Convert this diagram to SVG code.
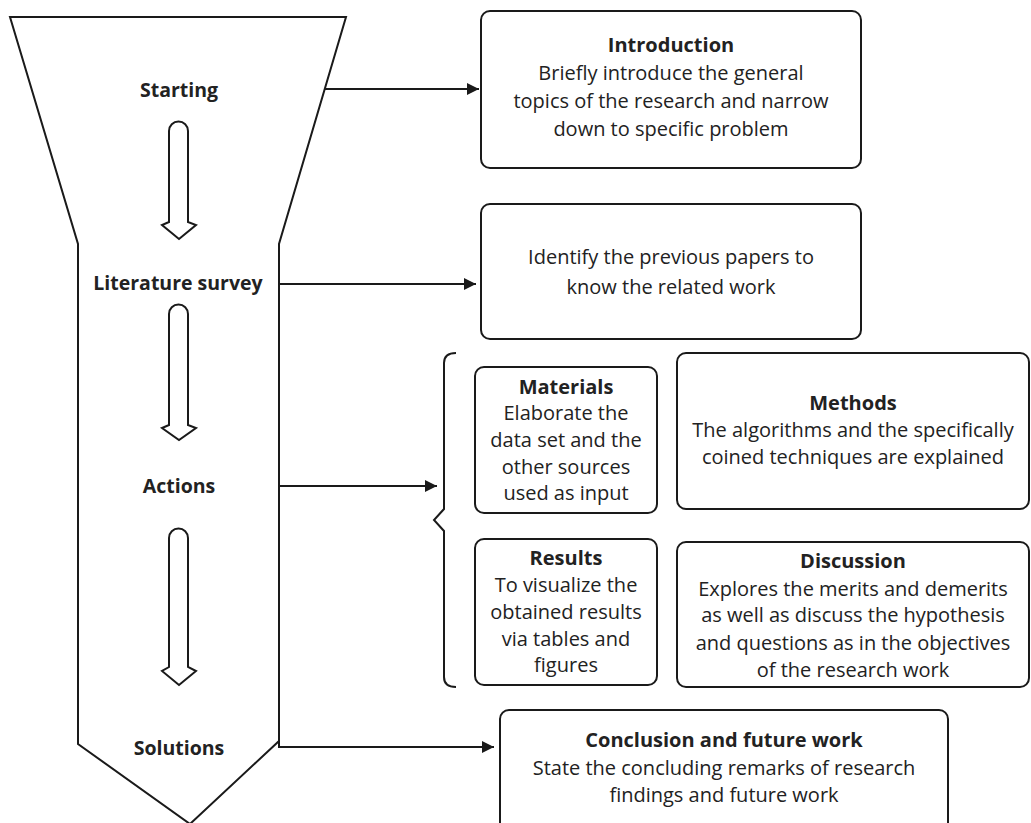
<svg xmlns="http://www.w3.org/2000/svg" width="1031" height="823" viewBox="0 0 1031 823">
<style>
.box{fill:#fff;stroke:#1a1a1a;stroke-width:2}
.line{fill:none;stroke:#1a1a1a;stroke-width:2}
.hollow{fill:#fff;stroke:#1a1a1a;stroke-width:2;stroke-linejoin:miter}
text{font-family:"Open Sans","Noto Sans","DejaVu Sans",sans-serif;fill:#222;text-anchor:middle}
.lbl{font-size:19.5px;font-weight:bold}
.t{font-size:20px;font-weight:bold}
.b{font-size:20px}
</style>
<defs>
<marker id="ah" markerWidth="12" markerHeight="12" refX="12" refY="6" orient="auto" markerUnits="userSpaceOnUse">
<path d="M0,0 L12,6 L0,12 Z" fill="#1a1a1a"/>
</marker>
</defs>
<rect width="1031" height="823" fill="#fff"/>
<g id="funnel">
<polygon class="hollow" points="10,17 346,17 279,244 279,741 190,824 78,744 78,244"/>
<path class="hollow" d="M169,222 V131 A9.5,9.5 0 0 1 188,131 V222 L196,225 L179,239 L162,225 Z"/>
<path class="hollow" d="M169,425 V314 A9.5,9.5 0 0 1 188,314 V425 L196,428 L179,440 L162,428 Z"/>
<path class="hollow" d="M169,667 V538 A9.5,9.5 0 0 1 188,538 V667 L196,671 L179,685 L162,671 Z"/>
<text class="lbl" x="179" y="97">Starting</text>
<text class="lbl" x="178" y="290">Literature survey</text>
<text class="lbl" x="179" y="493">Actions</text>
<text class="lbl" x="179" y="755">Solutions</text>
</g>
<g id="connectors">
<line class="line" x1="324" y1="89" x2="479" y2="89" marker-end="url(#ah)"/>
<line class="line" x1="279" y1="284" x2="476" y2="284" marker-end="url(#ah)"/>
<line class="line" x1="279" y1="486" x2="437" y2="486" marker-end="url(#ah)"/>
<path class="line" d="M279,741 V747 H494" marker-end="url(#ah)"/>
</g>
<g id="brace">
<path class="line" d="M456,353 Q444,353 444,363 V509 L434,520 L444,531 V677 Q444,687 456,687"/>
</g>
<g id="introduction">
<rect class="box" x="481" y="11" width="380" height="157" rx="9"/>
<text class="t" x="671" y="52">Introduction</text>
<text class="b" x="671" y="80">Briefly introduce the general</text>
<text class="b" x="671" y="108">topics of the research and narrow</text>
<text class="b" x="671" y="136">down to specific problem</text>
</g>
<g id="literature">
<rect class="box" x="481" y="204" width="380" height="135" rx="9"/>
<text class="b" x="671" y="264">Identify the previous papers to</text>
<text class="b" x="671" y="294">know the related work</text>
</g>
<g id="materials">
<rect class="box" x="475" y="367" width="182" height="146" rx="9"/>
<text class="t" x="566" y="394">Materials</text>
<text class="b" x="566" y="420">Elaborate the</text>
<text class="b" x="566" y="447">data set and the</text>
<text class="b" x="566" y="474">other sources</text>
<text class="b" x="566" y="500">used as input</text>
</g>
<g id="methods">
<rect class="box" x="677" y="353" width="352" height="156" rx="9"/>
<text class="t" x="853" y="410">Methods</text>
<text class="b" x="853" y="437">The algorithms and the specifically</text>
<text class="b" x="853" y="464">coined techniques are explained</text>
</g>
<g id="results">
<rect class="box" x="475" y="539" width="182" height="146" rx="9"/>
<text class="t" x="566" y="565">Results</text>
<text class="b" x="566" y="592">To visualize the</text>
<text class="b" x="566" y="619">obtained results</text>
<text class="b" x="566" y="646">via tables and</text>
<text class="b" x="566" y="672">figures</text>
</g>
<g id="discussion">
<rect class="box" x="677" y="542" width="352" height="145" rx="9"/>
<text class="t" x="853" y="568">Discussion</text>
<text class="b" x="853" y="596">Explores the merits and demerits</text>
<text class="b" x="853" y="622">as well as discuss the hypothesis</text>
<text class="b" x="853" y="650">and questions as in the objectives</text>
<text class="b" x="853" y="677">of the research work</text>
</g>
<g id="conclusion">
<rect class="box" x="500" y="710" width="448" height="130" rx="9"/>
<text class="t" x="724" y="747">Conclusion and future work</text>
<text class="b" x="724" y="775">State the concluding remarks of research</text>
<text class="b" x="724" y="802">findings and future work</text>
</g>
</svg>
